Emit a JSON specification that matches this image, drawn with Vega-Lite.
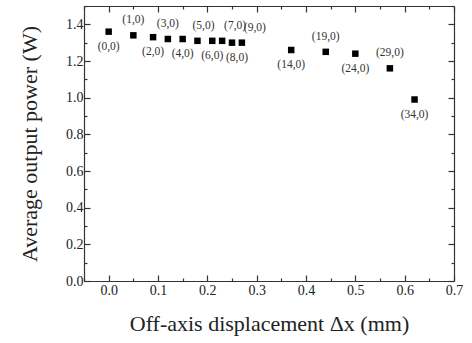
{
  "$schema": "https://vega.github.io/schema/vega-lite/v6.json",
  "width": 370,
  "height": 275,
  "autosize": "none",
  "padding": {"left": 84, "top": 6, "right": 18, "bottom": 62},
  "background": "white",
  "config": {
    "view": {"stroke": null},
    "font": "Liberation Serif",
    "axis": {"domainColor": "#333", "tickColor": "#333", "labelColor": "#222", "titleColor": "#222", "labelFont": "Liberation Serif", "titleFont": "Liberation Serif", "titleFontWeight": "normal", "grid": false, "domainWidth": 1.2, "tickWidth": 1.2}
  },
  "data": {"values": [
    {"dx": 0.0, "power": 1.36, "label": "(0,0)", "side": "below"},
    {"dx": 0.05, "power": 1.34, "label": "(1,0)", "side": "above"},
    {"dx": 0.09, "power": 1.33, "label": "(2,0)", "side": "below"},
    {"dx": 0.12, "power": 1.32, "label": "(3,0)", "side": "above"},
    {"dx": 0.15, "power": 1.32, "label": "(4,0)", "side": "below"},
    {"dx": 0.18, "power": 1.31, "label": "(5,0)", "side": "aboveS"},
    {"dx": 0.21, "power": 1.31, "label": "(6,0)", "side": "below"},
    {"dx": 0.23, "power": 1.31, "label": "(7,0)", "side": "aboveR"},
    {"dx": 0.25, "power": 1.30, "label": "(8,0)", "side": "belowS"},
    {"dx": 0.27, "power": 1.30, "label": "(9,0)", "side": "aboveR"},
    {"dx": 0.37, "power": 1.26, "label": "(14,0)", "side": "below"},
    {"dx": 0.44, "power": 1.25, "label": "(19,0)", "side": "above"},
    {"dx": 0.50, "power": 1.24, "label": "(24,0)", "side": "below"},
    {"dx": 0.57, "power": 1.16, "label": "(29,0)", "side": "above"},
    {"dx": 0.62, "power": 0.99, "label": "(34,0)", "side": "below"}
  ]},
  "layer": [
    {
      "mark": {"type": "square", "size": 42, "color": "black", "opacity": 1},
      "encoding": {
        "x": {"field": "dx", "type": "quantitative", "scale": {"domain": [-0.05, 0.7], "nice": false, "zero": false},
          "axis": {"title": "Off-axis displacement \u0394x (mm)", "titleFontSize": 22, "titlePadding": 13, "labelFontSize": 14, "values": [-0.05, 0, 0.05, 0.1, 0.15, 0.2, 0.25, 0.3, 0.35, 0.4, 0.45, 0.5, 0.55, 0.6, 0.65, 0.7], "labelExpr": "abs(datum.value*10 - round(datum.value*10)) > 0.01 ? '' : format(datum.value, '.1f')", "tickSize": {"condition": {"test": "abs(datum.value*10 - round(datum.value*10)) > 0.01", "value": -3}, "value": -6}, "labelPadding": 8, "labelOverlap": false, "labelFlush": false}},
        "y": {"field": "power", "type": "quantitative", "scale": {"domain": [0, 1.5], "nice": false},
          "axis": {"title": "Average output power (W)", "titleFontSize": 22, "titlePadding": 24, "labelFontSize": 14, "values": [0, 0.1, 0.2, 0.3, 0.4, 0.5, 0.6, 0.7, 0.8, 0.9, 1.0, 1.1, 1.2, 1.3, 1.4, 1.5], "labelExpr": "abs(datum.value*5 - round(datum.value*5)) > 0.01 ? '' : format(datum.value, '.1f')", "tickSize": {"condition": {"test": "abs(datum.value*5 - round(datum.value*5)) > 0.01", "value": -3}, "value": -6}, "labelPadding": 7, "labelOverlap": false, "labelFlush": false}}
      }
    },
    {
      "mark": {"type": "point", "opacity": 0},
      "encoding": {
        "x": {"field": "dx", "type": "quantitative", "axis": {"orient": "top", "title": null, "labels": false, "values": [-0.05, 0, 0.05, 0.1, 0.15, 0.2, 0.25, 0.3, 0.35, 0.4, 0.45, 0.5, 0.55, 0.6, 0.65, 0.7], "tickSize": {"condition": {"test": "abs(datum.value*10 - round(datum.value*10)) > 0.01", "value": -3}, "value": -6}}},
        "y": {"field": "power", "type": "quantitative", "axis": {"orient": "right", "title": null, "labels": false, "values": [0, 0.1, 0.2, 0.3, 0.4, 0.5, 0.6, 0.7, 0.8, 0.9, 1.0, 1.1, 1.2, 1.3, 1.4, 1.5], "tickSize": {"condition": {"test": "abs(datum.value*5 - round(datum.value*5)) > 0.01", "value": -3}, "value": -6}}}
      }
    },
    {
      "transform": [{"filter": "datum.side == 'below'"}],
      "mark": {"type": "text", "dy": 15, "fontSize": 11.5, "font": "Liberation Serif", "color": "#333"},
      "encoding": {"x": {"field": "dx", "type": "quantitative", "axis": null}, "y": {"field": "power", "type": "quantitative", "axis": null}, "text": {"field": "label"}}
    },
    {
      "transform": [{"filter": "datum.side == 'belowS'"}],
      "mark": {"type": "text", "dy": 15, "dx": 5, "fontSize": 11.5, "font": "Liberation Serif", "color": "#333"},
      "encoding": {"x": {"field": "dx", "type": "quantitative", "axis": null}, "y": {"field": "power", "type": "quantitative", "axis": null}, "text": {"field": "label"}}
    },
    {
      "transform": [{"filter": "datum.side == 'above'"}],
      "mark": {"type": "text", "dy": -15, "fontSize": 11.5, "font": "Liberation Serif", "color": "#333"},
      "encoding": {"x": {"field": "dx", "type": "quantitative", "axis": null}, "y": {"field": "power", "type": "quantitative", "axis": null}, "text": {"field": "label"}}
    },
    {
      "transform": [{"filter": "datum.side == 'aboveS'"}],
      "mark": {"type": "text", "dy": -15, "dx": 6, "fontSize": 11.5, "font": "Liberation Serif", "color": "#333"},
      "encoding": {"x": {"field": "dx", "type": "quantitative", "axis": null}, "y": {"field": "power", "type": "quantitative", "axis": null}, "text": {"field": "label"}}
    },
    {
      "transform": [{"filter": "datum.side == 'aboveR'"}],
      "mark": {"type": "text", "dy": -15, "dx": 13, "fontSize": 11.5, "font": "Liberation Serif", "color": "#333"},
      "encoding": {"x": {"field": "dx", "type": "quantitative", "axis": null}, "y": {"field": "power", "type": "quantitative", "axis": null}, "text": {"field": "label"}}
    }
  ],
  "resolve": {"axis": {"x": "independent", "y": "independent"}}
}
